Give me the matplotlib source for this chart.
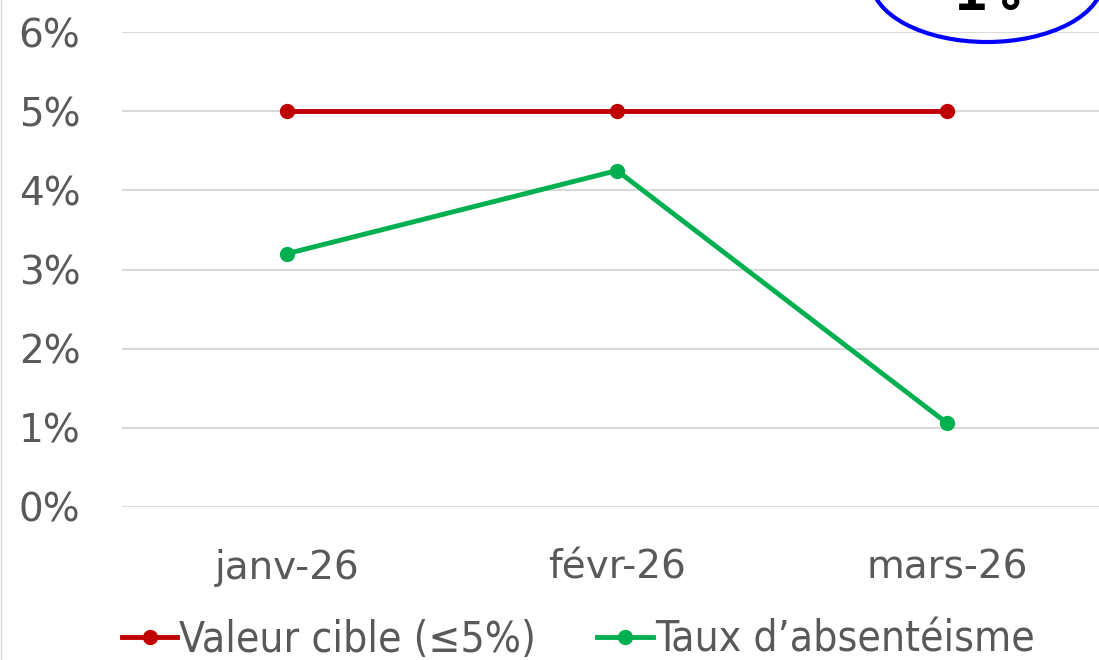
import matplotlib
matplotlib.use("Agg")
import matplotlib.pyplot as plt
from matplotlib.patches import Ellipse
from matplotlib.lines import Line2D
from matplotlib.ticker import PercentFormatter

# données
mois = ["janv-26", "févr-26", "mars-26"]
valeur_cible = [0.05, 0.05, 0.05]
taux_absenteisme = [0.032, 0.0425, 0.0106]
badge_txt = "1%"

fig = plt.figure(figsize=(10.99, 6.6), dpi=100)
ax = fig.add_axes([122 / 1099, 153 / 660, 990 / 1099, 475 / 660])

x = range(len(mois))
ax.plot(x, valeur_cible, color="#C00000", lw=3.5, marker="o", ms=10,
        label="Valeur cible (≤5%)", zorder=3)
ax.plot(x, taux_absenteisme, color="#00B050", lw=3.5, marker="o", ms=10,
        label="Taux d’absentéisme", zorder=3)

ax.set_xlim(-0.5, 2.5)
ax.set_ylim(0, 0.06)
ax.set_yticks([0, 0.01, 0.02, 0.03, 0.04, 0.05, 0.06])
ax.yaxis.set_major_formatter(PercentFormatter(1.0, decimals=0))
ax.set_xticks(list(x))
ax.set_xticklabels(mois)
ax.grid(axis="y", color="#D9D9D9", lw=1.5)
ax.set_axisbelow(True)
for s in ax.spines.values():
    s.set_visible(False)
ax.tick_params(length=0, labelsize=28, colors="#595959")
ax.tick_params(axis="y", pad=30)
ax.tick_params(axis="x", pad=30)

leg = ax.legend(loc="center left", bbox_to_anchor=(122 / 1099, 20 / 660),
                bbox_transform=fig.transFigure, ncol=2, frameon=False,
                borderpad=0, borderaxespad=0, handlelength=1.3,
                handletextpad=0.05, columnspacing=1.45,
                prop={"family": "DejaVu Sans", "stretch": "condensed", "size": 30.5})
for t in leg.get_texts():
    t.set_color("#595959")

# badge en haut à droite
fig.add_artist(Ellipse((987 / 1099, 1 + 20 / 660), 232 / 1099, 124 / 660,
                       transform=fig.transFigure, fill=False,
                       edgecolor="#0000FF", lw=3))
fig.text(987 / 1099, 1 - 10 / 660, badge_txt, ha="center", va="baseline",
         fontsize=40, fontweight="bold", family="DejaVu Sans Mono", color="black")

fig.add_artist(Line2D([0.001, 0.001], [0, 1], transform=fig.transFigure,
                      color="#D9D9D9", lw=1))

fig.savefig("out.png", dpi=100)
